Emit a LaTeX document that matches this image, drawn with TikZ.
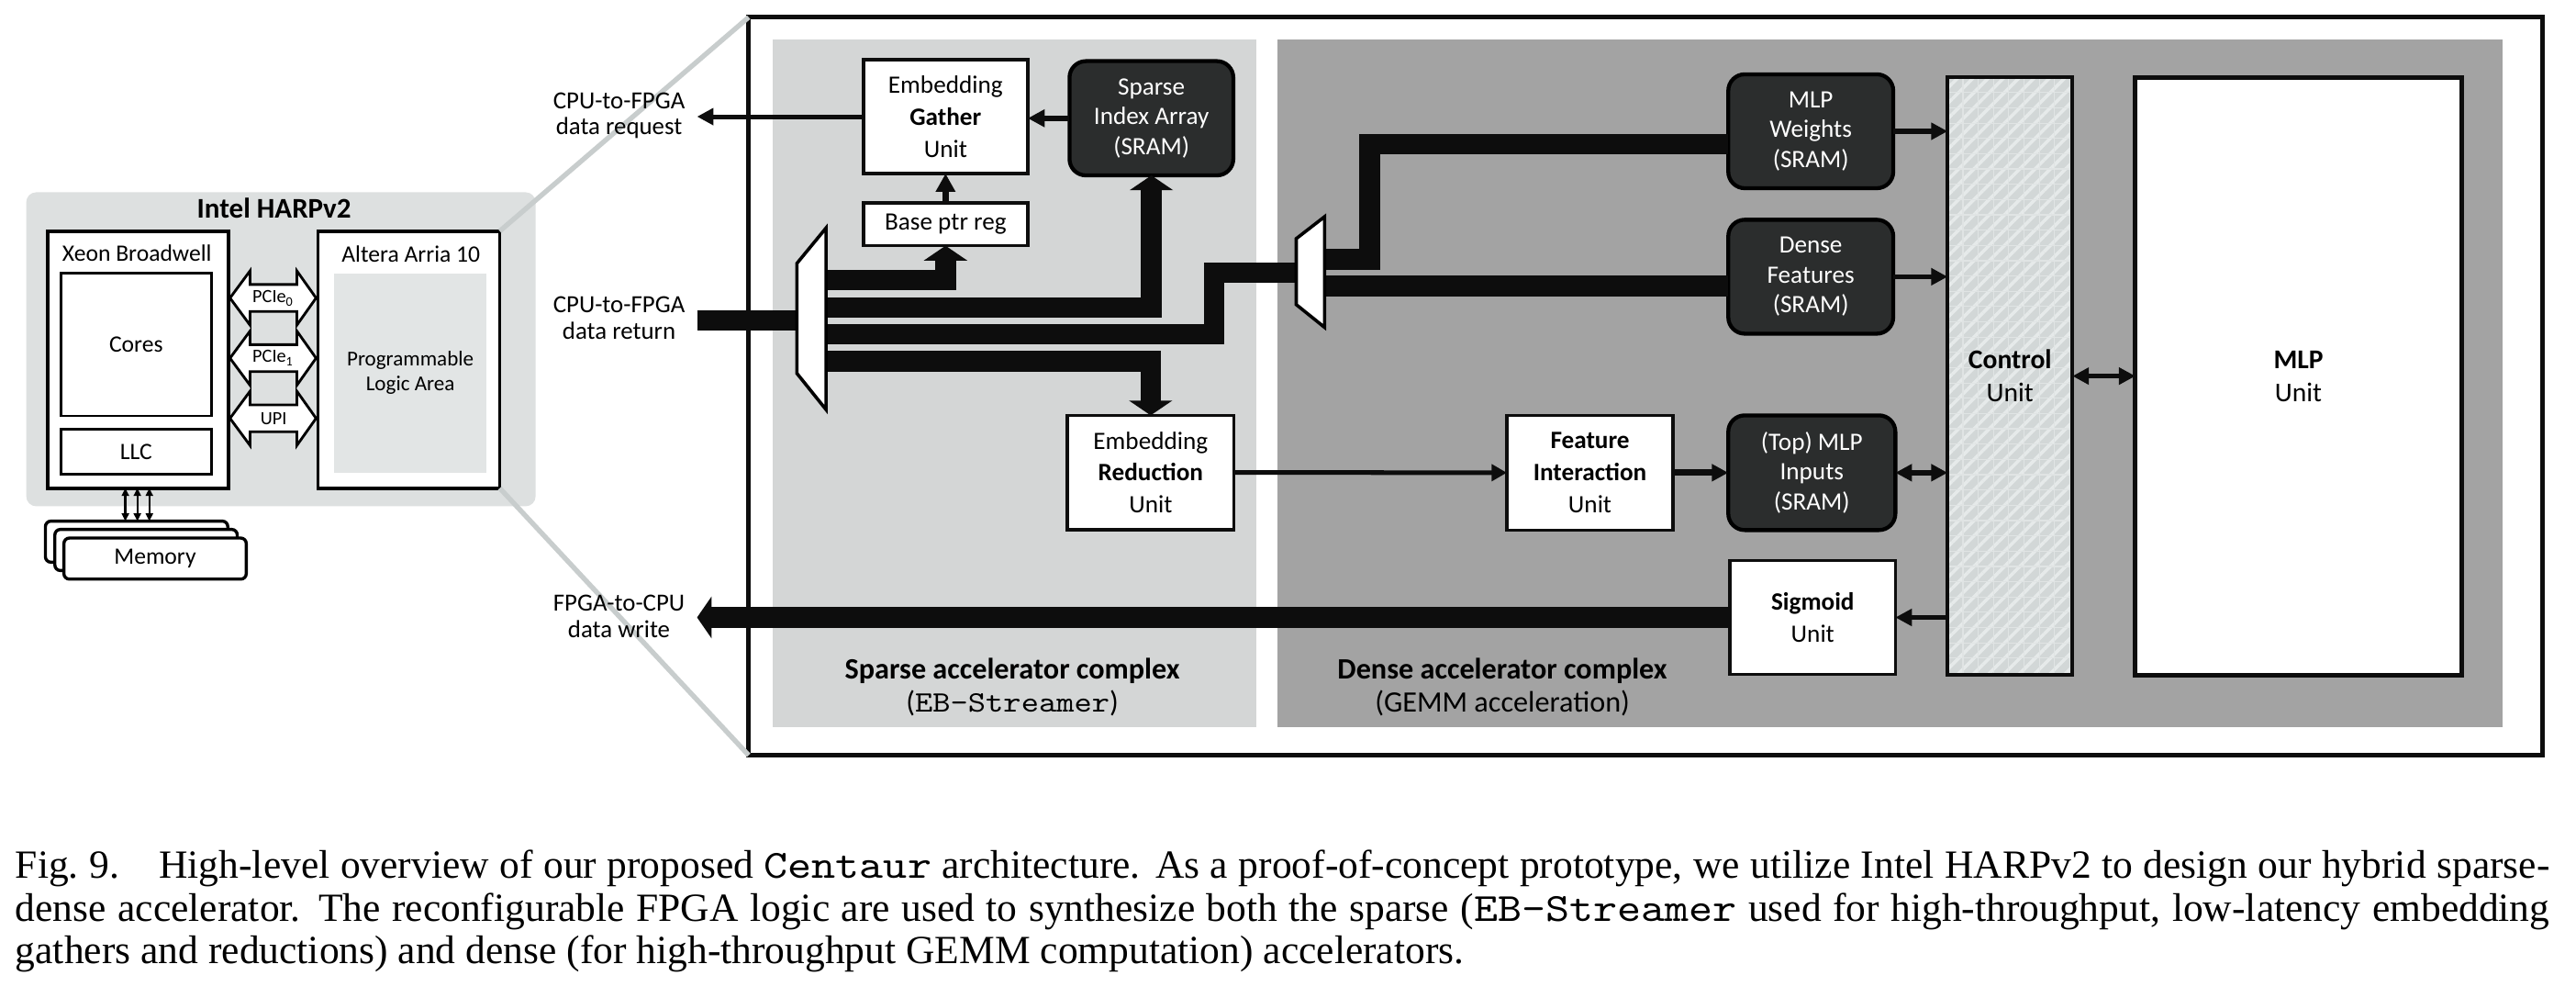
\documentclass[tikz,border=0pt]{standalone}
\usepackage{fontspec}
\setmainfont{Carlito}
\newfontfamily\capfont{Liberation Serif}
\newfontfamily\monofont{lmmono10-regular.otf}[FakeStretch=1.14]
\usetikzlibrary{arrows.meta,patterns.meta}
\definecolor{harpc}{RGB}{221,224,224}
\definecolor{progc}{RGB}{226,229,229}
\definecolor{sparsec}{RGB}{212,214,214}
\definecolor{densec}{RGB}{163,163,163}
\definecolor{sramc}{RGB}{43,45,45}
\definecolor{barc}{RGB}{13,13,13}
\definecolor{zoomc}{RGB}{200,205,205}
\definecolor{ctrlc}{RGB}{210,215,215}
\definecolor{stripec}{RGB}{230,234,234}
\definecolor{gridc}{RGB}{224,228,228}
\tikzset{
  wbox/.style={draw=barc, fill=white, line width=0.9pt, inner sep=0pt, outer sep=0pt, align=center, font=\fontsize{6.84}{8.73}\selectfont},
  sram/.style={draw=black, fill=sramc, line width=1.08pt, rounded corners=4.5pt, inner sep=0pt, outer sep=0pt, align=center, text=white, font=\fontsize{6.84}{8.19}\selectfont},
  sz/.style 2 args={minimum width=#1pt, minimum height=#2pt},
  thickbar/.style={draw=barc, line width=5.625pt, line join=miter, line cap=butt},
  bighead/.style={-{Triangle[width=11.7pt,length=4.05pt]}},
  thinarr/.style={draw=barc, line width=1.35pt, -{Triangle[width=4.5pt,length=4.5pt]}},
  dblarr/.style={draw=barc, line width=1.35pt, {Triangle[width=4.5pt,length=4.5pt]}-{Triangle[width=4.5pt,length=4.5pt]}},
  outlabel/.style={align=center, inner sep=0pt, font=\fontsize{6.75}{7.15}\selectfont},
  reglabel/.style={align=center, inner sep=0pt, font=\fontsize{8.1}{9.05}\selectfont},
  smalltext/.style={inner sep=0pt, font=\fontsize{6.44}{7.5}\selectfont},
  leftbox/.style={draw=black, fill=white, line width=0.95pt, inner sep=0pt, outer sep=0pt},
  pcie/.style={draw=black, fill=white, line width=0.72pt, line join=miter},
  memarr/.style={draw=black, line width=0.55pt, {Triangle[width=1.95pt,length=2.1pt]}-{Triangle[width=1.95pt,length=2.1pt]}},
  zoomline/.style={draw=zoomc, line width=1.35pt},
  muxshape/.style={draw=black, fill=white, line width=0.9pt, line join=miter},
  gridline/.style={draw=gridc, line width=0.3pt},
  capline/.style={anchor=base west, inner sep=0pt, font=\capfont\fontsize{10.94}{12}\selectfont}
}
\begin{document}
\begin{tikzpicture}[x=0.45pt,y=-0.45pt]
\useasboundingbox (0,0) rectangle (1568,606.64);
\fill[white] (0,0) rectangle (1568,606.64);

% ---------- Intel HARPv2 ----------
\fill[harpc, rounded corners=2.7pt] (16,117) rectangle (326,308);
\node[font=\bfseries\fontsize{7.8}{9}\selectfont, inner sep=0pt] (harpt) at (166.8,126.8) {Intel HARPv2};

% FPGA frame (needed for zoom lines)
\node[draw=barc, line width=1.17pt, inner sep=0pt, outer sep=0pt, sz={491.4}{202.05}] (fpga) at (1001.7,235) {};

\node[leftbox, sz={49.55}{70.38}] (xeon) at (83.95,218.8) {};
\node[smalltext] (xeont) at (83.4,154) {Xeon Broadwell};
\node[leftbox, line width=0.7pt, sz={41.27}{39.15}, font=\fontsize{6.44}{7.5}\selectfont] (cores) at (82.85,209.5) {Cores};
\node[leftbox, line width=0.7pt, sz={41.27}{12.29}, font=\fontsize{6.44}{7.5}\selectfont] (llc) at (82.85,274.95) {LLC};
\node[leftbox, sz={49.82}{70.38}] (altera) at (248.85,218.8) {};
\node[smalltext] (alterat) at (250.1,154.6) {Altera Arria 10};
\node[fill=progc, inner sep=0pt, sz={41.63}{54.63}, align=center, font=\fontsize{5.8}{6.75}\selectfont] (prog) at (249.75,227) {Programmable\\Logic Area};

\draw[zoomline] (altera.north east) -- (fpga.north west);
\draw[zoomline] (altera.south east) -- (fpga.south west);

\foreach \c/\t/\n in {181.3/PCIe\textsubscript{0}/pzero, 217.9/PCIe\textsubscript{1}/pone, 254.5/UPI/pupi}{
  \draw[pcie] (140,\c) -- (152.2,\c-16.5) -- (152.2,\c-8.2) -- (180.7,\c-8.2) -- (180.7,\c-16.5) -- (192.4,\c)
     -- (180.7,\c+16.5) -- (180.7,\c+8.2) -- (152.2,\c+8.2) -- (152.2,\c+16.5) -- cycle;
  \node[inner sep=0pt, font=\fontsize{5.1}{6}\selectfont] (\n) at (166.5,\c) {\t};
}

\node[leftbox, rounded corners=1.5pt, line width=0.85pt, sz={49.95}{11.25}] (m1) at (83.15,329.55) {};
\node[leftbox, rounded corners=1.5pt, line width=0.85pt, sz={49.95}{11.25}] (m2) at (88.9,334.6) {};
\node[leftbox, rounded corners=1.5pt, line width=0.85pt, sz={49.95}{11.25}, font=\fontsize{6.44}{7.5}\selectfont] (m3) at (94.4,339.85) {Memory};
\foreach \xx [count=\i] in {76.3,83.6,90.9}{
  \coordinate (mx\i) at (\xx,0);
  \draw[memarr] (xeon.south -| mx\i) -- (m1.north -| mx\i);
}

% ---------- Accelerator regions ----------
\fill[sparsec] (470.2,23.8) rectangle (764.7,442.3);
\fill[densec] (777.5,23.8) rectangle (1523.2,442.3);

% control unit background
\fill[ctrlc] (1185.5,47) rectangle (1261.5,410.6);
\fill[pattern={Lines[angle=45,distance=2.96pt,line width=0.9pt]}, pattern color=stripec] (1185.5,47) rectangle (1261.5,410.6);
\foreach \k in {1,...,8}{ \draw[gridline] ({1185.5+9.3*\k},47) -- ({1185.5+9.3*\k},410.6); }
\foreach \k in {1,...,39}{ \draw[gridline] (1185.5,{47+9.3*\k}) -- (1261.5,{47+9.3*\k}); }

% ---------- Blocks ----------
\node[wbox, sz={45.05}{31.19}] (gather) at (575.55,70.95) {Embedding\\\textbf{Gather}\\Unit};
\node[sram, sz={44.87}{31.28}] (sidx) at (700.85,71.95) {Sparse\\Index Array\\(SRAM)};
\node[wbox, sz={45.05}{11.79}] (basep) at (575.55,136.4) {Base ptr reg};
\node[wbox, sz={45.54}{31.28}] (red) at (700.4,287.45) {Embedding\\\textbf{Reduction}\\Unit};
\node[wbox, sz={45.54}{31.41}] (fi) at (967.8,287.6) {\textbf{Feature}\\\textbf{Interaction}\\Unit};
\node[sram, sz={45.77}{31.41}] (topmlp) at (1102.85,287.6) {(Top) MLP\\Inputs\\(SRAM)};
\node[sram, sz={45.18}{31.19}] (mlpw) at (1102.2,79.85) {MLP\\Weights\\(SRAM)};
\node[sram, sz={45.18}{31.19}] (densef) at (1102.2,168.35) {Dense\\Features\\(SRAM)};
\node[wbox, sz={45.27}{31.1}] (sigmoid) at (1103.4,375.65) {\textbf{Sigmoid}\\Unit};
\node[draw=barc, line width=1pt, inner sep=0pt, outer sep=0pt, sz={34.2}{163.62}, align=center, font=\fontsize{7.43}{9}\selectfont] (ctrl) at (1223.5,228.8) {\textbf{Control}\\Unit};
\node[wbox, line width=1.25pt, sz={89.33}{163.8}, font=\fontsize{7.43}{9}\selectfont] (mlpu) at (1399.05,229) {\textbf{MLP}\\Unit};

% ---------- Thick data paths ----------
\coordinate (retin) at (424.3,195.05);
\coordinate (dmin) at (488,195.05);
\draw[thickbar] (retin) -- (dmin);
\coordinate (d1a) at (500,170.35);
\coordinate (d1b) at (500,186.95);
\coordinate (d1c) at (500,203.25);
\coordinate (d1d) at (500,219.75);
\draw[thickbar,bighead] (d1a) -| (basep.south);
\draw[thickbar,bighead] (d1b) -| (sidx.south);
\coordinate (t3) at (739.1,165.75);
\coordinate (m2in) at (792,165.75);
\draw[thickbar] (d1c) -| (t3) -- (m2in);
\draw[thickbar,bighead] (d1d) -| (red.north);

\coordinate (m2a) at (803,157.85);
\coordinate (m2b) at (803,173.95);
\coordinate (t4) at (833.8,87.7);
\draw[thickbar] (m2a) -| (t4) -- (t4 -| mlpw.west);
\draw[thickbar] (m2b) -- (m2b -| densef.west);

\coordinate (wout) at (424.3,375.65);
\draw[thickbar, -{Triangle[width=11.25pt,length=3.96pt]}] (sigmoid.west) -- (wout);

% muxes
\draw[muxshape] (485.1,160.2) -- (502.8,138.7) -- (502.8,249.2) -- (485.1,227.2) -- cycle;
\draw[muxshape] (789,145.2) -- (806.3,131.8) -- (806.3,199.2) -- (789,185.3) -- cycle;

% ---------- Thin arrows ----------
\coordinate (req) at (424.3,70.95);
\draw[thinarr, line width=1.26pt] (gather.west) -- (req);
\draw[thinarr, line width=1.6pt, -{Triangle[width=4.6pt,length=4.6pt]}] (sidx.west) -- (sidx.west -| gather.east);
\draw[thinarr, line width=1.8pt, -{Triangle[width=5.1pt,length=4.95pt]}] (basep.north) -- (gather.south);
\draw[thinarr, line width=1.26pt, -{Triangle[width=4.5pt,length=4.2pt]}] (red.east) -- (fi.west);
\draw[thinarr, line width=1.8pt] (fi.east) -- (topmlp.west);
\draw[thinarr] (mlpw.east) -- (mlpw.east -| ctrl.west);
\draw[thinarr] (densef.east) -- (densef.east -| ctrl.west);
\draw[dblarr] (topmlp.east) -- (topmlp.east -| ctrl.west);
\draw[thinarr] (sigmoid.east -| ctrl.west) -- (sigmoid.east);
\draw[dblarr] (ctrl.east) -- (ctrl.east -| mlpu.west);

% ---------- Labels ----------
\node[outlabel] (lreq) at (376.8,70.3) {CPU-to-FPGA\\data request};
\node[outlabel] (lret) at (376.8,193.6) {CPU-to-FPGA\\data return};
\node[outlabel] (lwr) at (376.8,375) {FPGA-to-CPU\\data write};
\node[reglabel] (lsparse) at (616.2,417.85) {\textbf{Sparse accelerator complex}\\({\monofont EB-Streamer})};
\node[reglabel] (ldense) at (914.5,417.85) {\textbf{Dense accelerator complex}\\(GEMM acceleration)};

% ---------- Caption ----------
\node[capline] (cap1) at (9,534.2) {\hbox to 694.17pt{Fig.~9.\hspace{1em}High-level overview of our proposed {\monofont Centaur} architecture. As a proof-of-concept prototype, we utilize Intel HARPv2 to design our hybrid sparse-}};
\node[capline] (cap2) at (9,560.3) {\hbox to 694.17pt{dense accelerator. The reconfigurable FPGA logic are used to synthesize both the sparse ({\monofont EB-Streamer} used for high-throughput, low-latency embedding}};
\node[capline] (cap3) at (9,586.2) {gathers and reductions) and dense (for high-throughput GEMM computation) accelerators.};
\end{tikzpicture}
\end{document}
